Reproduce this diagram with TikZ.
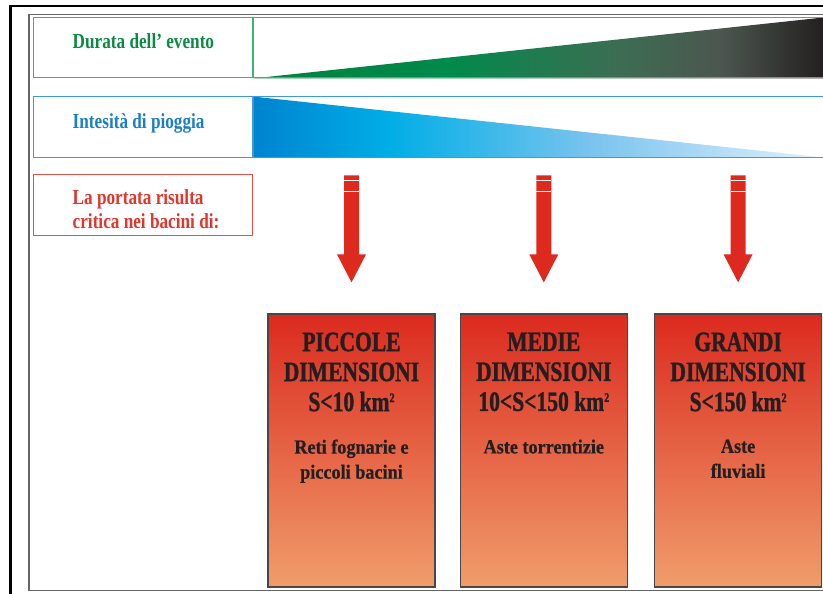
\documentclass[tikz,border=0pt]{standalone}
\usepackage{fontspec}
\setmainfont{Liberation Serif}
\newfontfamily\titlefont[FakeStretch=0.77, BoldFeatures={FakeBold=1.2}]{Liberation Serif}
\newfontfamily\labelfont[FakeStretch=0.80]{Liberation Serif}
\newfontfamily\notefont[FakeStretch=0.91, BoldFeatures={FakeBold=0.6}]{Liberation Serif}
\usetikzlibrary{positioning,calc,backgrounds}

\definecolor{durgreen}{HTML}{0B8A43}
\definecolor{durline}{HTML}{3DB56E}
\definecolor{intblue}{HTML}{1A7EC6}
\definecolor{intline}{HTML}{3F9BD7}
\definecolor{critred}{HTML}{E2352C}
\definecolor{critline}{HTML}{E6504A}
\definecolor{arrowred}{HTML}{DE2A1E}
\definecolor{boxtop}{HTML}{DB2A1F}
\definecolor{boxbottom}{HTML}{F09D6B}
\definecolor{boxline}{HTML}{4A4646}
\definecolor{inktext}{HTML}{231F20}
\definecolor{greenA}{HTML}{00803F}
\definecolor{greenB}{HTML}{008A4B}
\definecolor{greenC}{HTML}{3C6D53}
\definecolor{greenD}{HTML}{4C564F}
\definecolor{greenE}{HTML}{231F20}
\definecolor{blueA}{HTML}{0083CF}
\definecolor{blueB}{HTML}{00AEE6}
\definecolor{blueC}{HTML}{7CC4EE}
\definecolor{blueD}{HTML}{E2F1FC}

\pgfdeclarehorizontalshading{durataramp}{100bp}{color(0bp)=(greenA); color(25bp)=(greenA);
  color(42bp)=(greenB); color(57bp)=(greenC); color(66bp)=(greenD); color(75bp)=(greenE); color(100bp)=(greenE)}
\pgfdeclarehorizontalshading{intensitaramp}{100bp}{color(0bp)=(blueA); color(25bp)=(blueA);
  color(37bp)=(blueB); color(55bp)=(blueC); color(75bp)=(blueD); color(100bp)=(blueD)}

\newcommand{\kmsq}{km\raisebox{9pt}{\fontsize{13}{13}\selectfont 2}}

\tikzset{
  rowlabel/.style={draw=#1, line width=1pt, minimum width=219pt, minimum height=60pt, inner sep=0pt},
  rowramp/.style={draw=#1, line width=1pt, minimum width=570pt, minimum height=60pt, inner sep=0pt},
  labeltext/.style={anchor=north west, inner sep=0pt, align=left,
    font=\labelfont\bfseries\fontsize{21.5}{24}\selectfont},
  dimbox/.style={draw=boxline, line width=1.3pt, top color=boxtop, bottom color=boxbottom,
    minimum width=167pt, minimum height=273pt, inner sep=0pt},
  dimtitle/.style={anchor=north, inner sep=0pt, align=center, text=inktext,
    font=\titlefont\bfseries\fontsize{28}{30}\selectfont},
  dimnote/.style={anchor=north, inner sep=0pt, align=center, text=inktext,
    font=\notefont\bfseries\fontsize{20}{25}\selectfont},
  downarrow/.pic={
    \fill[arrowred] (-7.5,-107) -- (7.5,-107) -- (7.5,-28) -- (14.5,-28) -- (0,0)
      -- (-14.5,-28) -- (-7.5,-28) -- cycle;
    \draw[white, line width=1.2pt] (-7.5,-102) -- (7.5,-102) (-7.5,-91) -- (7.5,-91);
  }
}

\begin{document}
\begin{tikzpicture}[x=1pt,y=-1pt]
\useasboundingbox (0,0) rectangle (823,594);
\clip (0,0) rectangle (823,594);

%frame
\draw[line width=2.8pt] (10.5,700) |- (900,6);
\draw[black!60, line width=1.3pt] (29,14.5) rectangle (900,590.5);

%rows
\node[rowlabel=durline] (durata) at (142.5,48) {};
\node[rowramp=durline, right=0pt of durata] (duratabar) {};
\node[rowlabel=intline, below=18pt of durata] (intensita) {};
\node[rowramp=intline, right=0pt of intensita] (intensitabar) {};
\node[rowlabel=critline, minimum height=61pt, below=16pt of intensita] (critica) {};

\node[labeltext, text=durgreen] (duratatext) at ($(durata.west)+(40,-15)$) {Durata dell’ evento};
\node[labeltext, text=intblue] (intensitatext) at ($(intensita.west)+(40,-14)$) {Intesità di pioggia};
\node[labeltext, text=critred] (criticatext) at ($(critica.west)+(40,-15)$)
  {La portata risulta\\critica nei bacini di:};

%ramps
\begin{scope}[on background layer]
\shade[shading=durataramp] (duratabar.south west) -- (duratabar.north east)
  -- (duratabar.south east) -- cycle;
\shade[shading=intensitaramp] (intensitabar.north west) -- (intensitabar.south east)
  -- (intensitabar.south west) -- cycle;
\end{scope}

%basins
\node[dimbox] (piccole) at (351.5,450.5) {};
\node[dimbox, right=24pt of piccole] (medie) {};
\node[dimbox, right=26pt of medie] (grandi) {};

\node[dimtitle] (piccoletit) at ($(piccole.north)+(0,19)$) {PICCOLE\\DIMENSIONI\\S<10 \kmsq};
\node[dimtitle] (medietit) at ($(medie.north)+(0,19)$) {MEDIE\\DIMENSIONI\\10<S<150 \kmsq};
\node[dimtitle] (granditit) at ($(grandi.north)+(0,19)$) {GRANDI\\DIMENSIONI\\S<150 \kmsq};

\node[dimnote] (piccolenote) at ($(piccole.north)+(0,126)$) {Reti fognarie e\\piccoli bacini};
\node[dimnote] (medienote) at ($(medie.north)+(0,126)$) {Aste torrentizie};
\node[dimnote] (grandinote) at ($(grandi.north)+(0,126)$) {Aste\\fluviali};

%arrows
\pic at ($(piccole.north)+(0,-31)$) {downarrow};
\pic at ($(medie.north)+(0,-31)$) {downarrow};
\pic at ($(grandi.north)+(0,-31)$) {downarrow};
\end{tikzpicture}
\end{document}
